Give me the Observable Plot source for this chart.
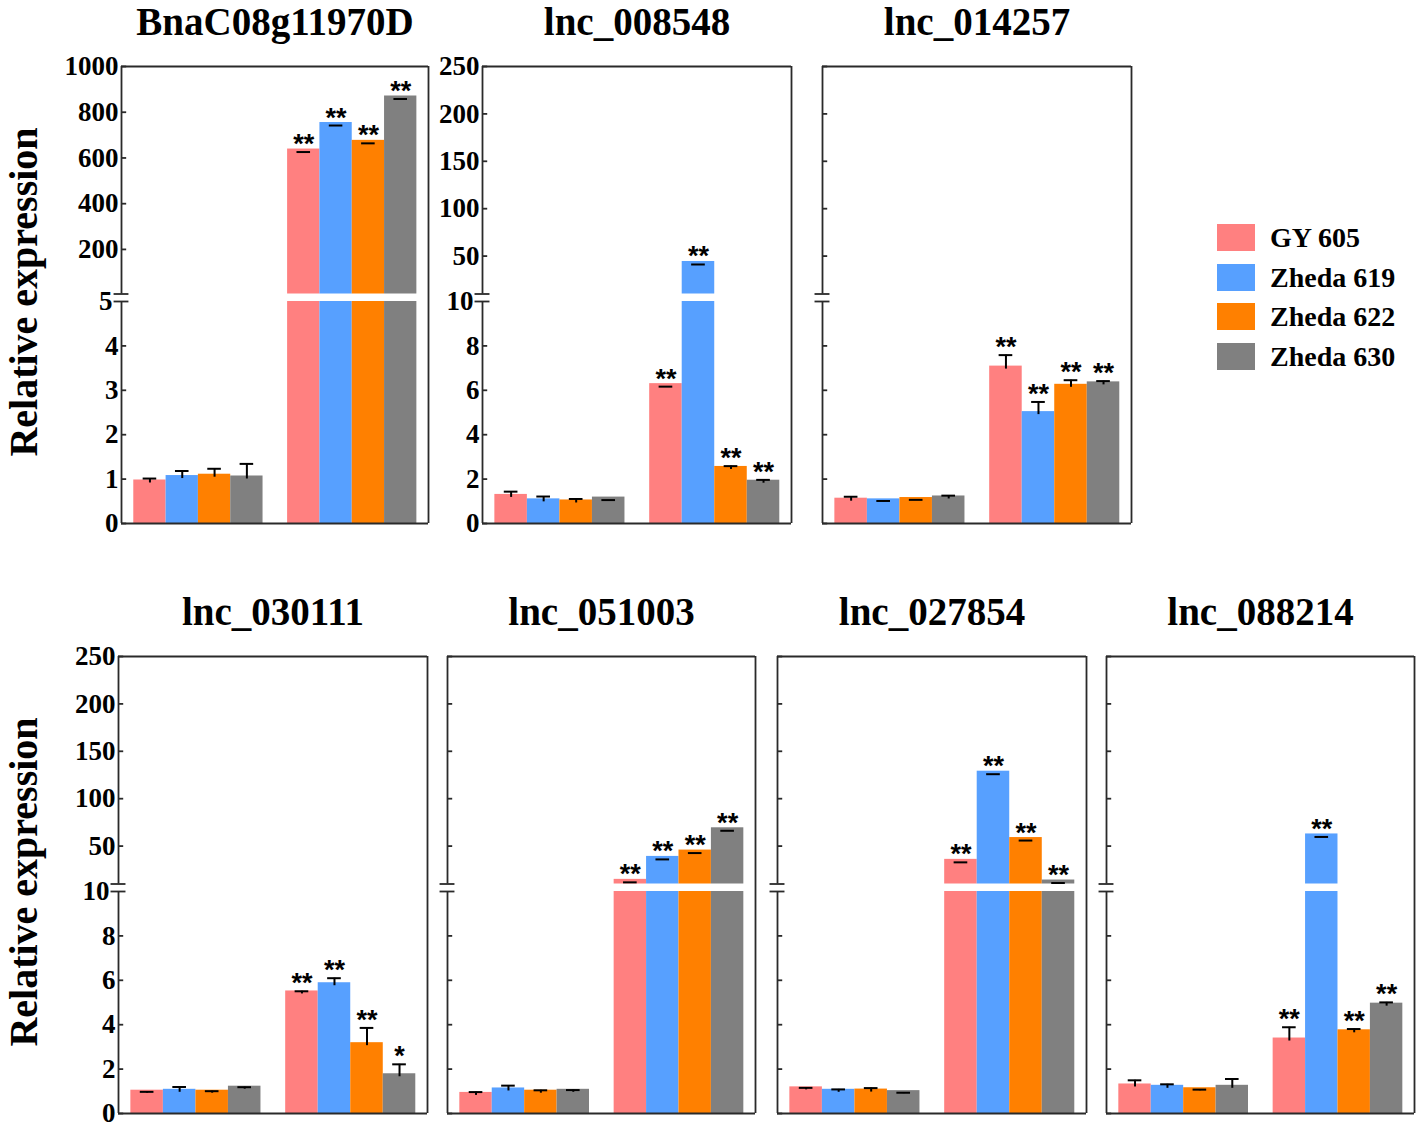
<!DOCTYPE html>
<html><head><meta charset="utf-8">
<script src="https://cdn.jsdelivr.net/npm/d3@7"></script>
<script src="https://cdn.jsdelivr.net/npm/@observablehq/plot@0.6"></script>
<style>
body{margin:0;background:#fff;}
#wrap{position:relative;width:1418px;height:1127px;overflow:hidden;background:#fff;}
.legend{position:absolute;left:1217px;top:224px;font-family:"Liberation Serif","Times New Roman",serif;font-weight:bold;font-size:28px;color:#000;}
.item{position:relative;height:39.6px;}
.sw{position:absolute;left:0;top:0;width:38px;height:27px;}
.lab{position:absolute;left:53px;top:0;line-height:27px;white-space:nowrap;}
</style></head><body><div id="wrap"></div>
<script>
// ---- data ----
const varieties = ["GY 605", "Zheda 619", "Zheda 622", "Zheda 630"];
const colors = ["#ff8080", "#57a0ff", "#ff8000", "#808080"];
const groups = ["control", "treated"];
const genes = ["BnaC08g11970D", "lnc_008548", "lnc_014257", "lnc_030111", "lnc_051003", "lnc_027854", "lnc_088214"];
const ctrlMean = [[0.98,1.08,1.11,1.07],[1.31,1.11,1.06,1.19],[1.14,1.11,1.17,1.24],[1.05,1.09,1.05,1.23],[0.95,1.15,1.05,1.09],[1.2,1.09,1.1,1.03],[1.33,1.27,1.16,1.27]];
const ctrlSE   = [[0.1,0.17,0.19,0.34],[0.26,0.24,0.18,0],[0.2,0.04,0.03,0.15],[0.06,0.24,0.09,0.09],[0.15,0.24,0.13,0.1],[0.09,0.13,0.18,0.04],[0.3,0.18,0.05,0.42]];
const trtMean  = [[639,755,677,871],[6.3,44.3,2.57,1.95],[7.09,5.04,6.27,6.38],[5.52,5.89,3.19,1.79],[14.9,39.1,45.8,69.3],[36,129,59,14.2],[3.4,62.8,3.77,4.97]];
const trtSE    = [[0,0,0,0],[0,0,0.15,0.15],[0.63,0.57,0.32,0.17],[0.12,0.34,0.8,0.56],[0,0,0,0],[0,0,0,0],[0.62,0,0.17,0.17]];
const trtSig   = [["**","**","**","**"],["**","**","**","**"],["**","**","**","**"],["**","**","**","*"],["**","**","**","**"],["**","**","**","**"],["**","**","**","**"]];
const axisBreak = [5,10,10,10,10,10,10];
const axisMax = [1000,250,250,250,250,250,250];
const lowerTicks = [[0,1,2,3,4,5],[0,2,4,6,8,10],[0,2,4,6,8,10],[0,2,4,6,8,10],[0,2,4,6,8,10],[0,2,4,6,8,10],[0,2,4,6,8,10]];
const upperTicks = [[200,400,600,800,1000],[50,100,150,200,250],[50,100,150,200,250],[50,100,150,200,250],[50,100,150,200,250],[50,100,150,200,250],[50,100,150,200,250]];
const yTitle = "Relative expression";

// ---- layout (not data) ----
const layout = [
  {left:0, top:0, ml:121, fw:307, labels:true, ylab:true},
  {left:431, top:0, ml:51, fw:309, labels:true},
  {left:794, top:0, ml:28, fw:309},
  {left:0, top:590, ml:118, fw:309, labels:true, ylab:true},
  {left:430, top:590, ml:17, fw:308},
  {left:758, top:590, ml:19, fw:309},
  {left:1089, top:590, ml:17, fw:308}
];

const serif = "'Liberation Serif','Times New Roman',serif";
const sans = "'Liberation Sans',Arial,sans-serif";
const wrap = document.getElementById("wrap");
const fmt = d => String(d);

function panel(i) {
  const L = layout[i];
  const mt = 66, fh = 457, mb = 6, mr = 3;
  const W = L.ml + L.fw + mr, H = mt + fh + mb;
  const b = axisBreak[i], bp = b * 1.0000001, ymax = axisMax[i];
  const y0 = mt + fh;
  const rows = [];
  groups.forEach((g, gi) => varieties.forEach((v, vi) => {
    rows.push({
      group: g, variety: v, slot: gi * 4.76 + vi,
      mean: gi ? trtMean[i][vi] : ctrlMean[i][vi],
      se: gi ? trtSE[i][vi] : ctrlSE[i][vi],
      sig: gi ? trtSig[i][vi] : ""
    });
  }));
  const xmin = -0.38, xmax = 9.12;
  const ticks = [...lowerTicks[i], ...upperTicks[i]].filter(t => t !== b);
  const line = {stroke: "#2a2a2a", strokeWidth: 1.8};
  const marks = [
    Plot.rect(rows, {x1: d => d.slot, x2: d => d.slot + 1, y1: 0, y2: d => Math.min(d.mean, b), fill: "variety"}),
    Plot.rect(rows.filter(d => d.mean > b), {x1: d => d.slot, x2: d => d.slot + 1, y1: bp, y2: "mean", fill: "variety"}),
    Plot.ruleX(rows, {x: d => d.slot + 0.5, y1: "mean", y2: d => d.mean + d.se, dy: 3, stroke: "#000", strokeWidth: 2}),
    Plot.ruleY(rows, {y: d => d.mean + d.se, x1: d => d.slot + 0.29, x2: d => d.slot + 0.71, dy: 3, stroke: "#000", strokeWidth: 2}),
    Plot.text(rows.filter(d => d.sig), {x: d => d.slot + 0.5, y: d => d.mean + d.se, text: "sig", dy: 4, lineAnchor: "bottom", fontFamily: sans, fontWeight: "bold", fontSize: 27}),
    Plot.ruleY([ymax], {x1: xmin, x2: xmax, ...line}),
    Plot.ruleY([0], {x1: xmin, x2: xmax, ...line}),
    Plot.ruleX([xmax], {y1: 0, y2: ymax, ...line}),
    Plot.ruleX([xmin], {y1: 0, y2: b, ...line}),
    Plot.ruleX([xmin], {y1: bp, y2: ymax, ...line}),
    Plot.ruleY([b, bp], {x1: xmin - 0.23, x2: xmin + 0.23, ...line}),
    Plot.ruleY(ticks, {x1: xmin, x2: xmin + 0.16, ...line}),
    Plot.text([genes[i]], {text: d => d, frameAnchor: "top", dy: -31.5, lineAnchor: "bottom", fontSize: 39, fontWeight: "bold", fontFamily: serif})
  ];
  if (L.labels) {
    marks.push(Plot.axisY({ticks: ticks, tickFormat: fmt, tickSize: 0, tickPadding: 3, label: null, fontSize: 27, fontWeight: "bold", fontFamily: serif}));
    marks.push(Plot.axisY({ticks: [b], tickFormat: fmt, tickSize: 0, tickPadding: 9, label: null, fontSize: 27, fontWeight: "bold", fontFamily: serif}));
  }
  if (L.ylab) {
    marks.push(Plot.text([yTitle], {text: d => d, frameAnchor: "left", rotate: -90, dx: -(L.ml - 36.5), dy: -3, textAnchor: "middle", lineAnchor: "bottom", fontSize: 40, fontWeight: "bold", fontFamily: serif}));
  }
  const svg = Plot.plot({
    width: W, height: H,
    marginTop: mt, marginBottom: mb, marginLeft: L.ml, marginRight: mr,
    x: {type: "linear", domain: [xmin, xmax], axis: null},
    y: {type: "linear", domain: [0, b, bp, ymax], range: [y0, y0 - 222, y0 - 229.5, mt], ...(L.labels ? {} : {axis: null})},
    color: {domain: varieties, range: colors},
    style: {fontFamily: serif, fontSize: "27px", fontWeight: "bold", background: "transparent", color: "#000",
            position: "absolute", left: L.left + "px", top: L.top + "px", overflow: "visible", maxWidth: "none"},
    marks
  });
  wrap.appendChild(svg);
}
genes.forEach((g, i) => panel(i));

// legend
const lg = document.createElement("div");
lg.className = "legend";
varieties.forEach((v, k) => {
  const it = document.createElement("div");
  it.className = "item";
  it.innerHTML = `<div class="sw" style="background:${colors[k]}"></div><div class="lab">${v}</div>`;
  lg.appendChild(it);
});
wrap.appendChild(lg);
</script></body></html>
